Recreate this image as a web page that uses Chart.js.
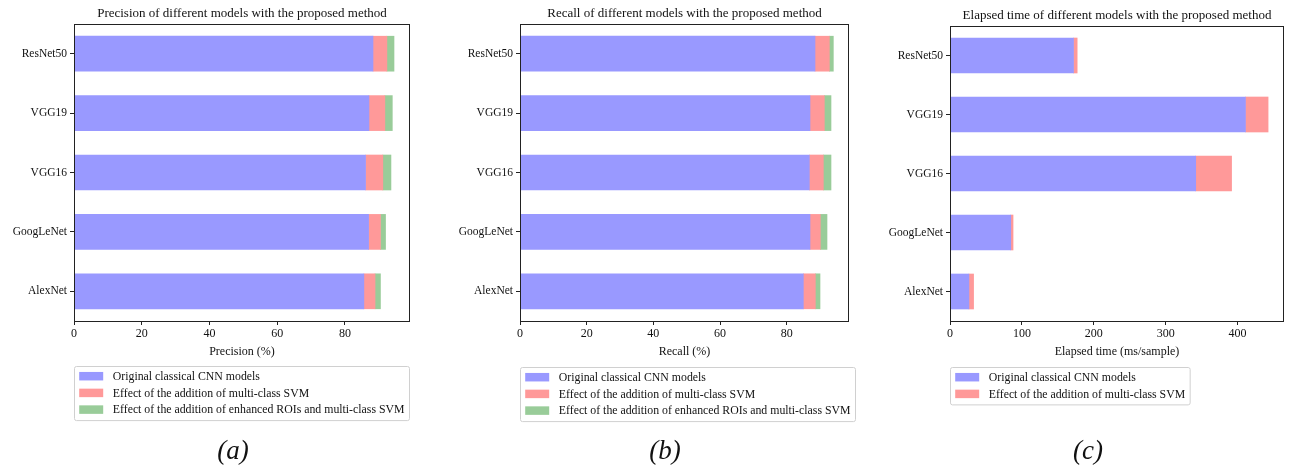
<!DOCTYPE html>
<html>
<head>
<meta charset="utf-8">
<script src="https://cdn.jsdelivr.net/npm/chart.js@4.4.1/dist/chart.umd.min.js"></script>
<style>
  html, body { margin: 0; padding: 0; background: #fff; }
  #wrap { position: relative; width: 1290px; height: 467px; overflow: hidden; background: #fff; }
  canvas { position: absolute; top: 0; }
</style>
</head>
<body>
<div id="wrap">
  <canvas id="cA" width="430" height="467" style="left:0px"></canvas>
  <canvas id="cB" width="430" height="467" style="left:440px"></canvas>
  <canvas id="cC" width="420" height="467" style="left:870px"></canvas>
</div>
<script>
// Models, listed top to bottom as they appear on the category axis
const models = ['ResNet50', 'VGG19', 'VGG16', 'GoogLeNet', 'AlexNet'];

// Precision (%): base CNN, then the gain from each addition
const precisionBase = [88.3, 87.1, 86.1, 87.0, 85.6];
const precisionSvm  = [4.1, 4.7, 5.1, 3.5, 3.3];
const precisionRoi  = [2.1, 2.2, 2.4, 1.5, 1.6];

// Recall (%)
const recallBase = [88.5, 87.0, 86.8, 87.0, 85.0];
const recallSvm  = [4.3, 4.3, 4.2, 3.1, 3.6];
const recallRoi  = [1.2, 2.0, 2.3, 2.0, 1.4];

// Elapsed time (ms/sample)
const timeBase = [171.8, 411.0, 341.8, 84.5, 26.3];
const timeSvm  = [5.1, 31.5, 49.9, 3.2, 6.5];

const seriesNames = [
  'Original classical CNN models',
  'Effect of the addition of multi-class SVM',
  'Effect of the addition of enhanced ROIs and multi-class SVM'
];
const seriesColors = ['rgb(153,153,255)', 'rgb(255,153,153)', 'rgb(153,204,153)'];

const SERIF = '"Liberation Serif", "Times New Roman", serif';
const INK = '#111';

// Axis frame, title, boxed legend and panel caption
const panelDecor = {
  id: 'panelDecor',
  afterDraw(chart, args, opts) {
    const { ctx, chartArea: a } = chart;
    ctx.save();
    ctx.strokeStyle = '#222';
    ctx.lineWidth = 1;
    ctx.strokeRect(Math.round(a.left) + 0.5, Math.round(a.top) + 0.5,
                   Math.round(a.right - a.left) - 1, Math.round(a.bottom - a.top));

    ctx.fillStyle = INK;
    ctx.font = '13px ' + SERIF;
    ctx.textAlign = 'center';
    ctx.textBaseline = 'middle';
    ctx.fillText(opts.title, (a.left + a.right) / 2, a.top - 10);

    // legend box
    const items = chart.data.datasets;
    ctx.font = '11.8px ' + SERIF;
    let tw = 0;
    items.forEach(d => { tw = Math.max(tw, ctx.measureText(d.label).width); });
    const bx = Math.round(a.left) + 0.5, by = opts.legendTop + 0.5;
    const rowH = 16.7, padX = 4.7, swW = 24, swH = 8.5, gap = 9.6;
    const bw = padX + swW + gap + tw + 5;
    const bh = 9.7 + rowH * (items.length - 1) + 11;
    ctx.strokeStyle = '#d0d0d0';
    ctx.lineWidth = 1;
    ctx.beginPath();
    ctx.roundRect(bx, by, bw, bh, 2);
    ctx.stroke();
    ctx.textAlign = 'left';
    items.forEach((d, i) => {
      const cy = by + 9.7 + i * rowH;
      ctx.fillStyle = d.backgroundColor;
      ctx.fillRect(bx + padX, cy - swH / 2, swW, swH);
      ctx.fillStyle = INK;
      ctx.fillText(d.label, bx + padX + swW + gap, cy + 0.5);
    });

    // caption
    ctx.font = 'italic 27px ' + SERIF;
    ctx.textAlign = 'center';
    ctx.fillStyle = INK;
    ctx.fillText(opts.caption, opts.captionX, 452);
    ctx.restore();
  }
};

function makePanel(id, cfg) {
  const datasets = cfg.series.map((vals, i) => ({
    label: seriesNames[i],
    data: vals,
    backgroundColor: seriesColors[i],
    borderWidth: 0,
    barThickness: 35
  }));
  // stacked totals set the upper bound, with a 5% margin
  const totals = models.map((_, k) => cfg.series.reduce((s, v) => s + v[k], 0));
  const xMax = Math.max(...totals) * 1.05;

  new Chart(document.getElementById(id), {
    type: 'bar',
    data: { labels: models, datasets },
    options: {
      indexAxis: 'y',
      responsive: false,
      animation: false,
      layout: { padding: { left: 0, right: cfg.padRight, top: cfg.padTop, bottom: 108 } },
      plugins: {
        legend: { display: false },
        tooltip: { enabled: false },
        title: { display: false },
        panelDecor: {
          title: cfg.title, caption: cfg.caption, captionX: cfg.captionX, legendTop: cfg.legendTop
        }
      },
      scales: {
        x: {
          stacked: true,
          min: 0,
          max: xMax,
          afterFit(s) { s.height = 38; },
          border: { display: false },
          grid: { display: true, drawOnChartArea: false, drawTicks: true, tickLength: 4, color: '#222' },
          ticks: {
            stepSize: cfg.step, includeBounds: false, color: INK, padding: 2,
            font: { family: SERIF, size: 12 }, maxRotation: 0
          },
          title: {
            display: true, text: cfg.xTitle, color: INK,
            font: { family: SERIF, size: 12 }, padding: { top: 0, bottom: 0 }
          }
        },
        y: {
          stacked: true,
          afterFit(s) { s.width = cfg.yWidth; },
          border: { display: false },
          grid: { display: true, drawOnChartArea: false, drawTicks: true, tickLength: 4, color: '#222', offset: false },
          ticks: { color: INK, padding: 3, font: { family: SERIF, size: 11.5 } }
        }
      }
    },
    plugins: [panelDecor]
  });
}

makePanel('cA', {
  series: [precisionBase, precisionSvm, precisionRoi],
  title: 'Precision of different models with the proposed method',
  xTitle: 'Precision (%)', step: 20, caption: '(a)', captionX: 233,
  yWidth: 74, padRight: 20, padTop: 24, legendTop: 366
});
makePanel('cB', {
  series: [recallBase, recallSvm, recallRoi],
  title: 'Recall of different models with the proposed method',
  xTitle: 'Recall (%)', step: 20, caption: '(b)', captionX: 225,
  yWidth: 80, padRight: 21, padTop: 24, legendTop: 367
});
makePanel('cC', {
  series: [timeBase, timeSvm],
  title: 'Elapsed time of different models with the proposed method',
  xTitle: 'Elapsed time (ms/sample)', step: 100, caption: '(c)', captionX: 218,
  yWidth: 80, padRight: 6, padTop: 26, legendTop: 367
});
</script>
</body>
</html>
